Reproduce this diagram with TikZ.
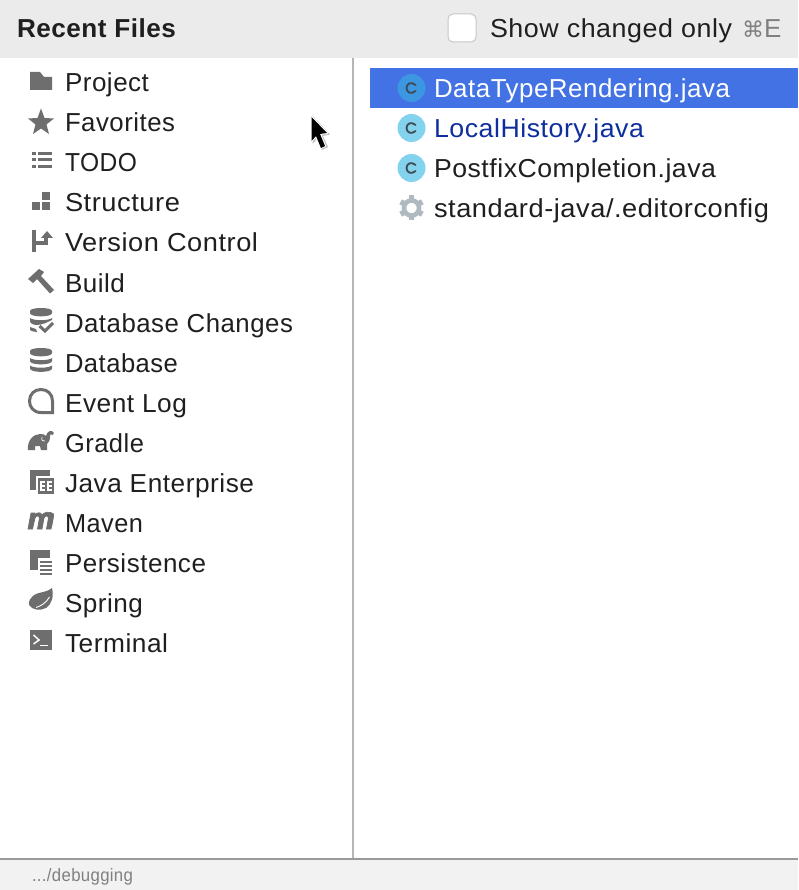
\documentclass[tikz,border=0pt]{standalone}
\usepackage{graphicx}
\usepackage{fontspec}
\setmainfont[LetterSpace=2]{Liberation Sans}
\newfontfamily\symfont{DejaVu Sans}
\newcommand\fitw[2]{\resizebox{#1pt}{\height}{#2}}
\definecolor{hdr}{HTML}{EBEBEB}
\definecolor{ftr}{HTML}{F2F2F2}
\definecolor{ico}{HTML}{6E6E6E}
\definecolor{txt}{HTML}{1F1F1F}
\definecolor{sel}{HTML}{4272E4}
\definecolor{selc}{HTML}{3C96E0}
\definecolor{lightc}{HTML}{83D2EE}
\definecolor{cc}{HTML}{3E4A55}
\definecolor{lnk}{HTML}{0F2E9E}
\definecolor{gear}{HTML}{AEB9C0}
\tikzset{
  x=1pt,y=-1pt,
  lbl/.style={anchor=base west,inner sep=0pt,outer sep=0pt,font=\fontsize{26}{30}\selectfont,text=txt},
  icon/.style={fill=ico,draw=none},
  cls/.style={circle,minimum size=28pt,inner sep=0pt,fill=lightc},
  cl/.style={draw=cc,line width=1.8pt,line cap=round},
}
\begin{document}
\begin{tikzpicture}
\useasboundingbox (0,0) rectangle (798,890);
\fill[white] (0,0) rectangle (798,890);
\fill[hdr] (0,0) rectangle (798,58);
\fill[ftr] (0,859) rectangle (798,890);
\draw[draw=black!29,line width=2pt] (353,58) -- (353,858);
\draw[draw=black!40,line width=2pt] (0,859) -- (798,859);
\node[lbl,font=\fontsize{26}{30}\selectfont\bfseries] (title) at (17,38) {\fitw{159}{Recent Files}};
\node[draw=black!22,fill=white,rounded corners=5pt,line width=1pt,minimum size=28pt,inner sep=0pt] (chk) at (462,28) {};
\node[lbl] (show) at (490,38) {\fitw{242}{Show changed only}};
\node[lbl,text=black!50] (key) at (742,38) {{\symfont\fontsize{22}{26}\selectfont ⌘}E};
\node[lbl,text=black!50,font=\fontsize{18}{22}\selectfont] (path) at (32,881.5) {\fitw{101}{.../debugging}};
% selection
\fill[sel] (370,68) rectangle (798,108);
% left labels
\foreach \n/\t/\y/\w in {a/Project/92/84,b/Favorites/132/110,c/TODO/172/72,d/Structure/212/115,e/Version Control/252/193,f/Build/292/60,g/Database Changes/332/228,h/Database/372/113,i/Event Log/412/122,j/Gradle/452/79,k/Java Enterprise/492/189,l/Maven/532/78,m/Persistence/572/141,n/Spring/612/78,o/Terminal/652/103}
  \node[lbl] (l\n) at (65,\y) {\fitw{\w}{\t}};
% right labels
\node[lbl,text=white] (f1) at (434,98) {\fitw{296}{DataTypeRendering.java}};
\node[lbl,text=lnk] (f2) at (434,138) {\fitw{210}{LocalHistory.java}};
\node[lbl] (f3) at (434,178) {\fitw{282}{PostfixCompletion.java}};
\node[lbl] (f4) at (434,218) {\fitw{335}{standard-java/.editorconfig}};
% class icons
\node[cls,fill=selc] (c1) at (411.5,88) {};
\node[cls] (c2) at (411.5,128) {};
\node[cls] (c3) at (411.5,168) {};
\foreach \y in {88,128,168}
  \draw[cl] (415.5,\y-3) .. controls (412,\y-6.5) and (406.5,\y-5) .. (406.5,\y) .. controls (406.5,\y+5) and (412,\y+6.5) .. (415.5,\y+3);
% gear
\foreach \a in {30,90,...,330}
  \draw[gear,line width=5.5pt] (411.5,208) ++(\a:7) -- ++(\a:5.5);
\draw[gear,line width=4.6pt] (411.5,208) circle[radius=7.6];
% Project
\fill[icon] (30,72) -- (40,72) -- (44,77) -- (52,77) -- (52,90) -- (30,90) -- cycle;
% Favorites
\fill[icon] (41,108.5) -- (44.5,118) -- (54,118.5) -- (46.5,124.5) -- (49,134) -- (41,128.5) -- (33,134) -- (35.5,124.5) -- (28,118.5) -- (37.5,118) -- cycle;
% TODO
\foreach \y in {152.5,158.5,165}{
  \fill[icon] (32,\y) rectangle (35.5,\y+3);
  \fill[icon] (38,\y) rectangle (52,\y+3);
}
% Structure
\fill[icon] (42,192) rectangle (50,200);
\fill[icon] (32,202) rectangle (40,210);
\fill[icon] (42,202) rectangle (50,210);
% Version Control
\fill[icon] (32,230) rectangle (36,252);
\fill[icon] (36,241) rectangle (48,245);
\fill[icon] (44,237) rectangle (48,245);
\fill[icon] (47,231) -- (53,238) -- (41,238) -- cycle;
% Build
\fill[icon] (28,279) -- (39,269) -- (44,272) -- (41,276) -- (54,290) -- (50,293.5) -- (37,279) -- (33,283) -- cycle;
% Database Changes
\fill[icon] (30,311) .. controls (30,307) and (52,307) .. (52,311) -- (52,313) .. controls (52,317.5) and (30,317.5) .. (30,313) -- cycle;
\fill[icon] (30,318) .. controls (34,321) and (48,321) .. (52,318) -- (52,320) .. controls (48,322) and (42,325) .. (37,325) .. controls (33,325) and (30,323) .. (30,321) -- cycle;
\fill[icon] (30,327) -- (36,329) -- (37,332) .. controls (34,332) and (31,331) .. (30,330) -- cycle;
\draw[ico,line width=3pt] (39.5,326) -- (45,331) -- (53,323);
% Database
\fill[icon] (30,351) .. controls (30,347) and (52,347) .. (52,351) -- (52,353) .. controls (52,357.5) and (30,357.5) .. (30,353) -- cycle;
\fill[icon] (30,358) .. controls (34,361) and (48,361) .. (52,358) -- (52,361) .. controls (52,365.5) and (30,365.5) .. (30,361) -- cycle;
\fill[icon] (30,365.5) .. controls (34,368.5) and (48,368.5) .. (52,365.5) -- (52,368.5) .. controls (52,373) and (30,373) .. (30,368.5) -- cycle;
% Event Log
\draw[ico,line width=3pt,line join=miter] (52.5,412.5) -- (41,412.5) .. controls (33.5,412.5) and (29.5,407) .. (29.5,401) .. controls (29.5,394) and (34.5,389.5) .. (41,389.5) .. controls (47.5,389.5) and (52.5,394) .. (52.5,401) -- cycle;
% Gradle
\fill[icon] (28,450) .. controls (27,441) and (33,434) .. (40,434) -- (44,434.5) -- (46,436) .. controls (47,431) and (52,429) .. (54,433) -- (52.5,435) .. controls (51,433) and (50,434) .. (50,437) .. controls (50,441) and (48,443) .. (47,444) -- (47,450) -- (41,450) -- (40,446) -- (35,446) -- (35,450) -- cycle;
\draw[white,line width=0.7pt] (42,437) .. controls (41,440) and (43,442) .. (45,441);
% Java Enterprise
\fill[icon] (30,470) rectangle (50,490);
\fill[white] (36,476) rectangle (56,499);
\fill[icon] (38,478) rectangle (54,494);
\fill[white] (40,481) rectangle (45,491);
\fill[white] (47,481) rectangle (52,491);
\foreach \x in {41.5,48.5}
 \foreach \y in {483,487}
  \fill[icon] (\x,\y) rectangle (\x+3.5,\y+1.5);
% Maven
\fill[icon,draw=ico,line width=0.7pt] (28,529) -- (31,513) -- (35,513) -- (35,515) .. controls (37,512) and (41,512) .. (42,515) .. controls (44,512) and (50,511) .. (53.5,514) .. controls (54,516) and (52,525) .. (51,529) -- (46.5,529) -- (48.5,518) .. controls (48,515) and (45,515.5) .. (44,518) -- (42,529) -- (37.5,529) -- (39.5,518) .. controls (39,515) and (36,515.5) .. (35,518) -- (32.5,529) -- cycle;
% Persistence
\fill[icon] (30,550) rectangle (50,570);
\fill[white] (38,558) rectangle (56,577);
\foreach \y in {560.5,564.5,568.5,572.5}
  \fill[icon] (40,\y) rectangle (52,\y+2.2);
% Spring
\fill[icon] (29,605) .. controls (28,597) and (36,593) .. (43,592) .. controls (47,591) and (50,590) .. (52,588) .. controls (54,596) and (52,604) .. (46,608) .. controls (40,611) and (32,610) .. (29,605) -- cycle;
\draw[white,line width=0.9pt] (36,607.5) .. controls (41,606) and (46,603) .. (49.5,597);
% Terminal
\fill[icon] (30,630) rectangle (52,650);
\draw[white,line width=1.5pt] (33.5,635) -- (39,640) -- (33.5,644);
\draw[white,line width=1.5pt] (40,645.5) -- (48,645.5);
% Cursor
\fill[black!25] (312.5,116) -- (330,134.5) -- (323,136) -- (328,147) -- (322,150) -- (317,139) -- (312.5,144) -- cycle;
\draw[white,line width=2pt,line join=round,fill=white] (311.5,117) -- (327,133) -- (320,134) -- (325,146) -- (321,148) -- (316,136) -- (311.5,141) -- cycle;
\fill[black] (311.5,117) -- (327,133) -- (320,134) -- (325,146) -- (321,148) -- (316,136) -- (311.5,141) -- cycle;
\end{tikzpicture}
\end{document}
